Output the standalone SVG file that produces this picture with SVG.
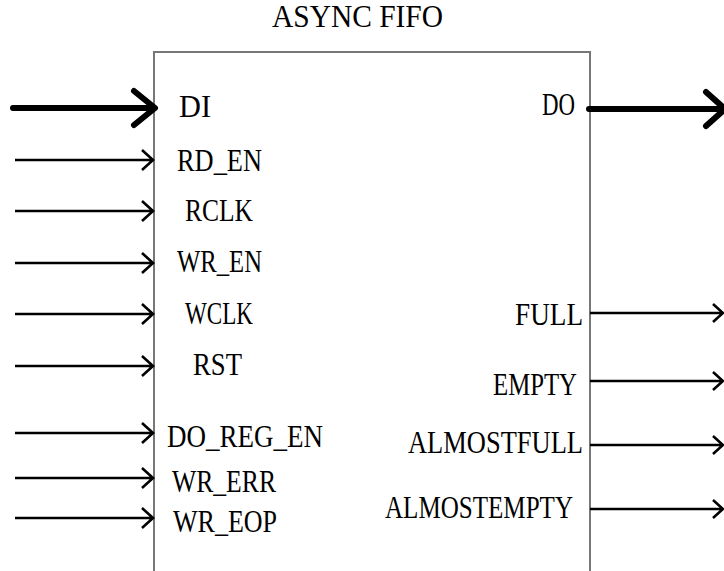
<svg xmlns="http://www.w3.org/2000/svg" width="724" height="571" viewBox="0 0 724 571">
<style>
text{font-family:"Liberation Serif","Times New Roman",serif;font-size:31px;fill:#000}
.box{fill:#fff;stroke:#777;stroke-width:2}
.thin{stroke:#000;stroke-width:2.6;fill:none;stroke-linecap:butt}
.thick{stroke:#000;stroke-width:6;fill:none;stroke-linecap:round;stroke-linejoin:round}
</style>
<rect width="724" height="571" fill="#fff"/>
<g id="fifo">
<rect class="box" x="154" y="52" width="436" height="540"/>
<text x="272" y="27" textLength="171" lengthAdjust="spacingAndGlyphs">ASYNC FIFO</text>
</g>
<g id="labels-in">
<text x="179" y="117" textLength="32" lengthAdjust="spacingAndGlyphs">DI</text>
<text x="177" y="171" textLength="85" lengthAdjust="spacingAndGlyphs">RD_EN</text>
<text x="185" y="221" textLength="68" lengthAdjust="spacingAndGlyphs">RCLK</text>
<text x="177" y="272" textLength="85" lengthAdjust="spacingAndGlyphs">WR_EN</text>
<text x="185" y="324" textLength="68" lengthAdjust="spacingAndGlyphs">WCLK</text>
<text x="193" y="375" textLength="49" lengthAdjust="spacingAndGlyphs">RST</text>
<text x="167" y="447" textLength="156" lengthAdjust="spacingAndGlyphs">DO_REG_EN</text>
<text x="172" y="492" textLength="104" lengthAdjust="spacingAndGlyphs">WR_ERR</text>
<text x="173" y="532" textLength="104" lengthAdjust="spacingAndGlyphs">WR_EOP</text>
</g>
<g id="labels-out">
<text x="542" y="115" textLength="33" lengthAdjust="spacingAndGlyphs">DO</text>
<text x="515" y="325" textLength="68" lengthAdjust="spacingAndGlyphs">FULL</text>
<text x="493" y="395" textLength="84" lengthAdjust="spacingAndGlyphs">EMPTY</text>
<text x="408" y="453" textLength="175" lengthAdjust="spacingAndGlyphs">ALMOSTFULL</text>
<text x="385" y="518" textLength="188" lengthAdjust="spacingAndGlyphs">ALMOSTEMPTY</text>
</g>
<g id="connectors">
<path class="thick" d="M13 108H153M134 91L155 108L134 125"/>
<path class="thick" d="M589 109H722M706 92L725 109L706 126"/>
<path class="thin" d="M15 160H153M142 150L153 160L142 170"/>
<path class="thin" d="M15 211H153M142 201L153 211L142 221"/>
<path class="thin" d="M15 263H153M142 253L153 263L142 273"/>
<path class="thin" d="M15 314H153M142 304L153 314L142 324"/>
<path class="thin" d="M15 366H153M142 356L153 366L142 376"/>
<path class="thin" d="M15 433H153M142 423L153 433L142 443"/>
<path class="thin" d="M15 478H153M142 468L153 478L142 488"/>
<path class="thin" d="M15 518H153M142 508L153 518L142 528"/>
<path class="thin" d="M590 313H723M713 304L723 313L713 322"/>
<path class="thin" d="M590 381H723M713 372L723 381L713 390"/>
<path class="thin" d="M590 445H723M713 436L723 445L713 454"/>
<path class="thin" d="M590 509H723M713 500L723 509L713 518"/>
</g>
</svg>
